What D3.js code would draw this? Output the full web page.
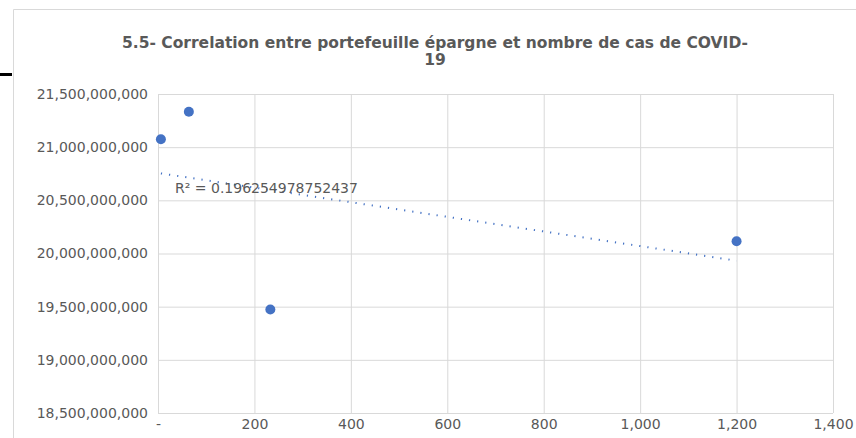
<!DOCTYPE html>
<html>
<head>
<meta charset="utf-8">
<script src="https://cdn.jsdelivr.net/npm/d3@7"></script>
<style>
  body { margin: 0; background: #fff; }
  svg { display: block; font-family: "DejaVu Sans", sans-serif; }
  .grid line { stroke: #d9d9d9; }
  .grid path { display: none; }
  .axis path, .axis line { display: none; }
  .axis text { fill: #595959; font-size: 14px; font-family: "DejaVu Sans", sans-serif; }
</style>
</head>
<body>
<div id="chart"></div>
<script>
// nombre de cas de COVID (x) and portefeuille épargne (y)
const casCovid = [6, 64, 233, 1200];
const epargne = [21074000000, 21333000000, 19473000000, 20116000000];
const xTicks = [0, 200, 400, 600, 800, 1000, 1200, 1400];
const yTicks = [18500000000, 19000000000, 19500000000, 20000000000, 20500000000, 21000000000, 21500000000];
const titleLines = ['5.5- Correlation entre portefeuille épargne et nombre de cas de COVID-', '19'];
const r2Label = 'R² = 0.196254978752437';

const width = 856;
const height = 438;

const svg = d3.select('#chart')
  .append('svg')
  .attr('width', width)
  .attr('height', height);

// chart frame
svg.append('path')
  .attr('d', `M13.5,${height} V9.5 H${width}`)
  .attr('fill', 'none')
  .attr('stroke', '#d9d9d9');

// stray black bar at the left edge
svg.append('rect')
  .attr('x', 0).attr('y', 73)
  .attr('width', 12).attr('height', 3)
  .attr('fill', '#000');

const plot = { left: 158, right: 833, top: 94, bottom: 413 };

const xScale = d3.scaleLinear().domain([0, 1400]).range([plot.left, plot.right]);
const yScale = d3.scaleLinear().domain([18500000000, 21500000000]).range([plot.bottom, plot.top]);

// gridlines
svg.append('g')
  .attr('class', 'grid')
  .attr('transform', `translate(${plot.left}, 0)`)
  .call(d3.axisLeft(yScale).tickValues(yTicks).tickFormat('').tickSize(-(plot.right - plot.left)));

svg.append('g')
  .attr('class', 'grid')
  .attr('transform', `translate(0, ${plot.bottom})`)
  .call(d3.axisBottom(xScale).tickValues(xTicks).tickFormat('').tickSize(-(plot.bottom - plot.top)));

// axes
const fmt = d3.format(',');
svg.append('g')
  .attr('class', 'axis')
  .attr('transform', `translate(${plot.left - 2}, 0)`)
  .call(d3.axisLeft(yScale).tickValues(yTicks).tickFormat(fmt).tickSize(0).tickPadding(8));

svg.append('g')
  .attr('class', 'axis')
  .attr('transform', `translate(0, ${plot.bottom})`)
  .call(d3.axisBottom(xScale).tickValues(xTicks)
    .tickFormat((d) => (d === 0 ? '-' : fmt(d))).tickSize(0).tickPadding(6));

// linear trendline (least squares, like Excel)
const mx = d3.mean(casCovid);
const my = d3.mean(epargne);
const sxy = d3.sum(casCovid, (x, i) => (x - mx) * (epargne[i] - my));
const sxx = d3.sum(casCovid, (x) => (x - mx) ** 2);
const slope = sxy / sxx;
const intercept = my - slope * mx;
const [xMin, xMax] = d3.extent(casCovid);

svg.append('line')
  .attr('x1', xScale(xMin)).attr('y1', yScale(intercept + slope * xMin))
  .attr('x2', xScale(xMax)).attr('y2', yScale(intercept + slope * xMax))
  .attr('stroke', '#4472c4')
  .attr('stroke-width', 2)
  .attr('stroke-dasharray', '1.2,7');

// points
svg.append('g')
  .selectAll('circle')
  .data(casCovid)
  .join('circle')
  .attr('cx', (d) => xScale(d))
  .attr('cy', (d, i) => yScale(epargne[i]))
  .attr('r', 5)
  .attr('fill', '#4472c4');

// R² label
svg.append('text')
  .attr('x', 175)
  .attr('y', 193)
  .attr('fill', '#595959')
  .attr('font-size', 14)
  .text(r2Label);

// title
svg.append('text')
  .attr('text-anchor', 'middle')
  .attr('fill', '#595959')
  .attr('font-size', 15.5)
  .attr('font-weight', 'bold')
  .selectAll('tspan')
  .data(titleLines)
  .join('tspan')
  .attr('x', 435)
  .attr('y', (d, i) => 48 + i * 17)
  .text((d) => d);
</script>
</body>
</html>
